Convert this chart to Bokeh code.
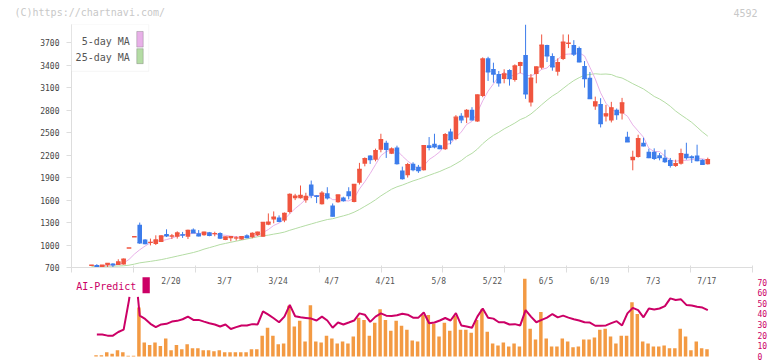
import numpy as np
import pandas as pd
from bokeh.plotting import figure
from bokeh.layouts import column
from bokeh.models import (Range1d, FixedTicker, Label, BoxAnnotation, ColumnDataSource,
                          CustomLabelingPolicy)
from bokeh.core.properties import value
from bokeh.embed import file_html
from bokeh.resources import INLINE

# ---------------- data ----------------
date_labels = ["2/20", "3/7", "3/24", "4/7", "4/21", "5/8", "5/22", "6/5", "6/19", "7/3", "7/17"]
date_label_idx = [15, 25, 35, 45, 55, 65, 75, 85, 95, 105, 115]
price_ticks = [700, 1000, 1300, 1600, 1900, 2200, 2500, 2800, 3100, 3400, 3700]
ai_ticks = [0, 10, 20, 30, 40, 50, 60, 70]

opens = [730, 735, 705, 730, 755, 735, 740, 960, 1110, 1270,
         1075, 1030, 1015, 1040, 1147, 1115, 1112, 1140, 1112, 1209,
         1156, 1130, 1170, 1148, 1160, 1067, 1090, 1090, 1075, 1130,
         1103, 1132, 1112, 1271, 1342, 1369, 1329, 1440, 1626, 1626,
         1599, 1808, 1660, 1546, 1692, 1529, 1573, 1635, 1719, 1575,
         1831, 2087, 2194, 2140, 2273, 2366, 2220, 2304, 1994, 1932,
         2087, 2047, 1998, 2331, 2353, 2331, 2278, 2517, 2416, 2726,
         2703, 2805, 2650, 2991, 3493, 3351, 3284, 3218, 3337, 3204,
         3391, 3537, 2903, 3284, 3368, 3670, 3524, 3315, 3484, 3690,
         3670, 3630, 3391, 3235, 2850, 2885, 2716, 2663, 2805, 2756,
         2446, 2131, 2176, 2366, 2247, 2247, 2198, 2167, 2136, 2056,
         2087, 2220, 2184, 2194, 2140, 2078]
highs = [730, 745, 732, 758, 757, 810, 820, 960, 1110, 1300,
         1078, 1086, 1130, 1130, 1210, 1148, 1183, 1175, 1205, 1222,
         1200, 1178, 1175, 1178, 1170, 1113, 1115, 1118, 1118, 1143,
         1170, 1178, 1305, 1422, 1449, 1396, 1435, 1690, 1684, 1795,
         1698, 1861, 1665, 1720, 1772, 1555, 1672, 1645, 1772, 1815,
         2097, 2171, 2200, 2287, 2486, 2393, 2304, 2327, 2047, 2097,
         2105, 2070, 2336, 2442, 2486, 2340, 2496, 2553, 2735, 2761,
         2815, 2841, 3010, 3506, 3514, 3435, 3324, 3347, 3347, 3413,
         3448, 3945, 3284, 3385, 3812, 3675, 3560, 3493, 3812, 3812,
         3736, 3650, 3457, 3311, 2982, 2961, 2872, 2912, 2823, 2965,
         2513, 2260, 2473, 2433, 2287, 2291, 2229, 2273, 2163, 2140,
         2287, 2366, 2198, 2340, 2145, 2167]
lows = [730, 705, 700, 705, 705, 733, 738, 960, 1110, 1015,
        1010, 995, 1000, 1040, 1107, 1080, 1086, 1095, 1080, 1162,
        1115, 1125, 1117, 1117, 1080, 1065, 1050, 1060, 1073, 1090,
        1090, 1120, 1110, 1265, 1290, 1305, 1305, 1420, 1600, 1620,
        1565, 1626, 1560, 1540, 1608, 1380, 1565, 1580, 1610, 1570,
        1808, 2051, 2083, 2118, 2238, 2163, 2215, 2074, 1874, 1901,
        1985, 1963, 1995, 2264, 2291, 2280, 2270, 2344, 2400, 2628,
        2628, 2665, 2645, 2974, 3191, 3168, 3115, 3160, 3129, 3182,
        3293, 2952, 2850, 3160, 3347, 3444, 3328, 3262, 3470, 3630,
        3524, 3440, 3102, 2950, 2805, 2570, 2650, 2637, 2672, 2676,
        2380, 1998, 2167, 2318, 2160, 2135, 2131, 2096, 2034, 2043,
        2074, 2140, 2096, 2118, 2070, 2075]
closes = [730, 712, 730, 755, 737, 775, 810, 960, 1110, 1030,
          1020, 1035, 1067, 1120, 1122, 1122, 1160, 1135, 1196, 1165,
          1122, 1170, 1130, 1152, 1094, 1107, 1110, 1095, 1110, 1100,
          1156, 1170, 1302, 1306, 1373, 1316, 1422, 1675, 1652, 1662,
          1648, 1666, 1652, 1692, 1631, 1386, 1668, 1595, 1662, 1808,
          2008, 2154, 2140, 2260, 2406, 2278, 2283, 2087, 1888, 2074,
          2007, 1994, 2327, 2304, 2313, 2287, 2473, 2406, 2708, 2672,
          2796, 2672, 3005, 3484, 3315, 3284, 3168, 3284, 3222, 3391,
          3435, 3018, 3227, 3378, 3670, 3528, 3381, 3435, 3710, 3695,
          3550, 3448, 3222, 2956, 2912, 2623, 2752, 2832, 2743, 2899,
          2380, 2171, 2420, 2326, 2167, 2158, 2167, 2114, 2065, 2087,
          2220, 2167, 2167, 2127, 2078, 2140]
# 25-day MA for the first days (history before the window is not shown)
ma25_head = [715, 715, 716, 717, 718, 720, 723, 731, 745, 762,
             772, 782, 793, 805, 820, 836, 852, 868, 884, 900,
             920, 945, 965, 985]
volume = [0, 1.2, 1.2, 4.0, 2.5, 5.8, 4.0, 0.6, 0.6, 46,
          13.2, 10.7, 13.2, 9.8, 16.9, 5.8, 10.7, 6.8, 11.4, 7.7,
          7.7, 5.8, 5.8, 4.9, 5.8, 4.0, 4.0, 4.0, 4.0, 4.0,
          6.8, 6.8, 19.6, 27, 19.6, 11.4, 12.3, 47.6, 28.2, 33.5,
          14.1, 48.2, 14.1, 13.2, 19.6, 16.9, 12.3, 14.1, 12.3, 18.7,
          36.5, 34.4, 19.6, 31.6, 44.5, 34.4, 24.3, 33.5, 28.9, 25.2,
          15, 14.1, 39, 39, 30.7, 18.7, 31.6, 24.3, 38.1, 25.2,
          25.2, 22.4, 34.4, 44.5, 23.3, 12.3, 10.4, 13.2, 9.5, 12.3,
          9.5, 73, 26.1, 16, 41.8, 16.9, 9.5, 9.5, 16.9, 14.1,
          8.6, 9.5, 16, 16, 17.8, 25.2, 26.1, 18.7, 12.3, 19.6,
          19.6, 51, 39.9, 14.1, 12.3, 9.5, 9.5, 10.4, 7.7, 7.7,
          26.1, 18.7, 5.8, 14.1, 7.7, 6.8]
ai_predict = [np.nan, 20.6, 20.6, 19.6, 19.6, 23, 25.2, 53, 90, 38.4,
              35.3, 30.7, 27.6, 30.1, 30.7, 32.8, 33.5, 35, 37.5, 34.4,
              34.4, 32.8, 31.3, 30.1, 28.2, 30.1, 25.8, 27.6, 29.2, 29.2,
              30.4, 30.1, 42.4, 39.3, 35.9, 32.2, 37.5, 48.5, 37.8, 36.8,
              36.2, 35.6, 33.8, 37.5, 33.8, 27, 31.9, 30.1, 31.9, 33.8,
              40.5, 39.3, 32.5, 37.5, 40.5, 38.4, 38.1, 38.7, 40.2, 39.3,
              36.5, 36.5, 41.4, 31.3, 31.9, 33.8, 36.2, 33.8, 40.8, 29.2,
              28.2, 27, 37.5, 45.1, 36.5, 35.6, 32.2, 32.2, 30.1, 30.4,
              29.2, 43.6, 37.5, 32.2, 34.4, 36.5, 39.9, 36.8, 38.4, 36.5,
              35, 33.8, 32.2, 31.9, 28.9, 28.9, 29.2, 31.3, 33.2, 29.2,
              40.5, 45.7, 43.6, 36.8, 45.1, 44.2, 45.1, 47.3, 54.6, 53.1,
              53.7, 48.5, 47.9, 46.7, 46, 43.6]

# ---------------- styles ----------------
MONO = "DejaVu Sans Mono"
RED = "#f0553f"
BLUE = "#3c7ceb"
ORANGE = "#f39a43"
MAGENTA = "#cc0066"
PINK = "#e8b0e8"
GREEN = "#b4dca4"
AXIS_GRAY = "#dddddd"
AI_CLIP = 56.0
W = 772

n = len(closes)
idx = np.arange(n)
o = np.array(opens, float)
h = np.array(highs, float)
l = np.array(lows, float)
c = np.array(closes, float)
colors = [RED if cc >= oo else BLUE for oo, cc in zip(o, c)]

cs = pd.Series(c)
ma5 = cs.rolling(5, min_periods=1).mean().to_numpy()
ma25 = cs.rolling(25).mean().to_numpy()
ma25[:len(ma25_head)] = ma25_head

src = ColumnDataSource(dict(x=idx, o=o, h=h, l=l, c=c,
                            top=np.maximum(o, c), bottom=np.minimum(o, c),
                            color=colors))

XL, XR = -3.73, 123.34
x_range = Range1d(XL, XR)


def bare(fig):
    fig.grid.visible = False
    fig.outline_line_color = None
    return fig


# ---------------- header strip ----------------
p0 = bare(figure(width=W, height=24, x_range=Range1d(0, W), y_range=Range1d(24, 0),
                 output_backend="svg", toolbar_location=None,
                 x_axis_location=None, y_axis_location=None, frame_align=False,
                 min_border_left=0, min_border_right=0, min_border_top=0, min_border_bottom=0))
p0.text(x=[14], y=[12], text=["(C)https://chartnavi.com/"], text_font=value(MONO),
        text_font_size="10px", text_color="#c8c8c8", text_align="left", text_baseline="middle")
p0.text(x=[757], y=[12], text=["4592"], text_font=value(MONO),
        text_font_size="10px", text_color="#c8c8c8", text_align="right", text_baseline="middle")

# ---------------- main price chart ----------------
p1 = bare(figure(width=W, height=252, x_range=x_range, y_range=Range1d(700, 3945),
                 output_backend="svg", toolbar_location=None,
                 min_border_left=71, min_border_right=20, min_border_top=0, min_border_bottom=8))

p1.line(idx, ma25, line_color=GREEN, line_width=1)
p1.line(idx, ma5, line_color=PINK, line_width=1)

p1.segment(x0="x", y0="l", x1="x", y1="h", line_color="color", line_width=1, source=src)
p1.vbar(x="x", width=0.85, top="top", bottom="bottom", fill_color="color",
        line_color=None, source=src)
p1.scatter(x="x", y="c", marker="dash", size=4.6, line_color="color", line_width=1.4, source=src)

p1.yaxis.ticker = FixedTicker(ticks=price_ticks)
p1.yaxis.axis_line_color = AXIS_GRAY
p1.yaxis.major_tick_line_color = AXIS_GRAY
p1.yaxis.major_tick_out = 5
p1.yaxis.major_tick_in = 0
p1.yaxis.minor_tick_line_color = None
p1.yaxis.major_label_text_font = MONO
p1.yaxis.major_label_text_font_size = "8px"
p1.yaxis.major_label_text_color = "#444444"
p1.yaxis.major_label_standoff = 7

p1.xaxis.ticker = FixedTicker(ticks=[XL + k * (XR - XL) / 11 for k in range(12)])
p1.xaxis.axis_line_color = AXIS_GRAY
p1.xaxis.major_tick_line_color = AXIS_GRAY
p1.xaxis.major_tick_out = 5
p1.xaxis.major_tick_in = 2
p1.xaxis.minor_tick_line_color = None
p1.xaxis.major_label_text_font_size = "1px"
p1.xaxis.major_label_standoff = 0
p1.xaxis.major_label_policy = CustomLabelingPolicy(
    code="for (const i of Array.from(indices)) { indices.unset(i) } return indices")

# legend (text left, swatch right)
p1.add_layout(BoxAnnotation(left=XL, right=10.69, top=3945, bottom=3320,
                            fill_color="white", fill_alpha=1, line_color=AXIS_GRAY, line_width=1))
p1.add_layout(BoxAnnotation(left=8.45, right=9.65, top=3852, bottom=3643,
                            fill_color=PINK, fill_alpha=1, line_color="#555555", line_width=1))
p1.add_layout(BoxAnnotation(left=8.45, right=9.65, top=3622, bottom=3422,
                            fill_color=GREEN, fill_alpha=1, line_color="#555555", line_width=1))
for txt, yy in (("5-day MA", 3723), ("25-day MA", 3510)):
    p1.add_layout(Label(x=7.15, y=yy, text=txt, text_font=MONO, text_font_size="10px",
                        text_color="#555555", text_align="right", text_baseline="middle"))

# ---------------- AI-Predict panel ----------------
p2 = bare(figure(width=W, height=85, x_range=x_range, y_range=Range1d(-4.7, 75.17),
                 output_backend="svg", toolbar_location=None, x_axis_location=None,
                 y_axis_location="right",
                 min_border_left=71, min_border_right=20, min_border_top=0, min_border_bottom=0))

p2.vbar(x=idx - 0.15, width=0.65, top=volume, bottom=0, fill_color=ORANGE, line_color=None)


def clip_line(xs, ys, top):
    ox, oy = [], []
    for k in range(len(xs)):
        yk = ys[k]
        if k > 0:
            yp = ys[k - 1]
            if np.isfinite(yp) and np.isfinite(yk) and ((yp > top) != (yk > top)):
                t = (top - yp) / (yk - yp)
                ox.append(xs[k - 1] + t * (xs[k] - xs[k - 1]))
                oy.append(top)
                if yk > top:
                    ox.append(np.nan)
                    oy.append(np.nan)
        if not np.isfinite(yk):
            ox.append(np.nan)
            oy.append(np.nan)
        elif yk <= top:
            ox.append(xs[k])
            oy.append(yk)
    return ox, oy


ax, ay = clip_line(list(idx.astype(float)), list(np.array(ai_predict, float)), AI_CLIP)
p2.line(ax, ay, line_color=MAGENTA, line_width=2)

p2.text(x=date_label_idx, y=[70.47] * len(date_labels), text=date_labels,
        text_font=value(MONO), text_font_size="8px", text_color="#555555",
        text_align="center", text_baseline="middle", x_offset=-1)
p2.text(x=[-2.86], y=[65.77], text=["AI-Predict"], text_font=value(MONO),
        text_font_size="10px", text_color=MAGENTA, text_align="left", text_baseline="middle")
p2.add_layout(BoxAnnotation(left=9.52, right=10.88, top=74.51, bottom=59.48,
                            fill_color=MAGENTA, fill_alpha=1, line_color=None))

p2.yaxis.ticker = FixedTicker(ticks=ai_ticks)
p2.yaxis.axis_line_color = None
p2.yaxis.major_tick_line_color = None
p2.yaxis.minor_tick_line_color = None
p2.yaxis.major_tick_out = 0
p2.yaxis.major_tick_in = 0
p2.yaxis.major_label_text_font = MONO
p2.yaxis.major_label_text_font_size = "8px"
p2.yaxis.major_label_text_color = MAGENTA
p2.yaxis.major_label_standoff = 5

layout = column(p0, p1, p2, spacing=0)
open("out.html", "w").write(file_html(layout, INLINE))
